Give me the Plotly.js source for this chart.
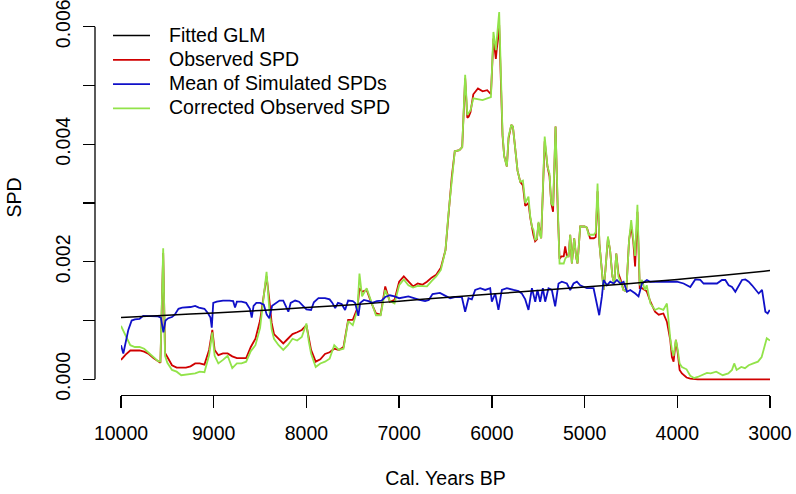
<!DOCTYPE html>
<html>
<head>
<meta charset="utf-8">
<script src="https://cdn.plot.ly/plotly-3.0.1.min.js"></script>
<style>html,body{margin:0;padding:0;background:#fff;}#chart{width:796px;height:494px;}</style>
</head>
<body>
<div id="chart"></div>
<script>
// ---------- data ----------
// Fitted GLM
var glmYears = [10000, 9500, 9000, 8500, 8000, 7500, 7000, 6500, 6000, 5500, 5000, 4500, 4000, 3500, 3000];
var glmSPD   = [0.00105, 0.00109, 0.00113, 0.00117, 0.00122, 0.00127, 0.00133, 0.00139, 0.00145, 0.00151, 0.00157, 0.00163, 0.00170, 0.00177, 0.00185];

// Observed SPD (red) and Corrected Observed SPD (green) share one time axis
var spdYears = [10000,9950,9900,9850,9800,9750,9700,9650,9600,9575,9545,9525,9500,9450,9400,9350,9300,9250,9200,9150,
  9100,9050,9015,8990,8950,8900,8850,8800,8750,8700,8650,8600,8550,8500,8430,8400,8375,8350,8300,8250,
  8200,8150,8100,8050,8000,7975,7950,7900,7850,7800,7750,7700,7650,7600,7550,7500,7450,7428,7400,7350,
  7300,7250,7200,7150,7100,7050,7000,6950,6900,6850,6800,6750,6700,6650,6600,6550,6500,6468,6432,6400,
  6350,6320,6288,6265,6250,6230,6200,6150,6100,6050,6010,5983,5957,5921,5903,5885,5867,5838,5820,5790,
  5773,5748,5723,5694,5665,5640,5605,5586,5568,5551,5533,5514,5497,5480,5468,5430,5400,5378,5360,5340,
  5313,5290,5270,5250,5225,5209,5190,5173,5155,5137,5112,5090,5076,5047,5000,4975,4957,4940,4900,4880,
  4860,4840,4820,4795,4775,4748,4725,4700,4680,4658,4635,4610,4580,4550,4520,4497,4475,4455,4430,4405,
  4380,4350,4330,4310,4290,4240,4200,4150,4112,4076,4058,4040,4015,3995,3975,3950,3930,3900,3860,3820,
  3780,3750,3720,3680,3640,3580,3510,3450,3410,3386,3360,3310,3270,3230,3180,3130,3090,3070,3035,3000];

var observedSPD = [0.00033,0.00042,0.00049,0.00049,0.00049,0.00047,0.00043,0.00036,0.00030,0.00028,0.00215,0.00045,0.00038,0.00024,0.00020,0.00020,0.00020,0.00022,0.00027,0.00027,
  0.00025,0.00050,0.00084,0.00050,0.00041,0.00044,0.00044,0.00039,0.00036,0.00036,0.00036,0.00055,0.00069,0.00100,0.00175,0.00135,0.00096,0.00077,0.00069,0.00061,
  0.00069,0.00077,0.00080,0.00084,0.00092,0.00070,0.00050,0.00030,0.00034,0.00043,0.00046,0.00052,0.00050,0.00055,0.00101,0.00101,0.00121,0.00155,0.00149,0.00152,
  0.00130,0.00112,0.00110,0.00158,0.00132,0.00135,0.00166,0.00175,0.00166,0.00158,0.00163,0.00161,0.00166,0.00173,0.00178,0.00190,0.00220,0.00282,0.00345,0.00388,
  0.00390,0.00395,0.00512,0.00445,0.00447,0.00455,0.00485,0.00495,0.00490,0.00492,0.00485,0.00580,0.00545,0.00603,0.00525,0.00415,0.00380,0.00362,0.00410,0.00433,
  0.00430,0.00396,0.00355,0.00336,0.00330,0.00295,0.00300,0.00275,0.00255,0.00245,0.00235,0.00238,0.00266,0.00245,0.00240,0.00405,0.00362,0.00345,0.00300,0.00285,
  0.00430,0.00290,0.00205,0.00209,0.00209,0.00226,0.00209,0.00209,0.00246,0.00197,0.00240,0.00207,0.00197,0.00260,0.00260,0.00258,0.00246,0.00240,0.00240,0.00242,
  0.00320,0.00231,0.00197,0.00152,0.00186,0.00240,0.00220,0.00175,0.00163,0.00214,0.00180,0.00169,0.00152,0.00150,0.00237,0.00260,0.00235,0.00192,0.00285,0.00155,
  0.00155,0.00152,0.00150,0.00141,0.00132,0.00115,0.00110,0.00112,0.00098,0.00067,0.00038,0.00030,0.00067,0.00045,0.00016,0.00010,0.00007,0.00003,0.00001,0.00000,
  0.00000,0.00000,0.00000,0.00000,0.00000,0.00000,0.00000,0.00000,0.00000,0.00000,0.00000,0.00000,0.00000,0.00000,0.00000,0.00000,0.00000,0.00000,0.00000,0.00000];

var correctedSPD = [0.00091,0.00075,0.00058,0.00055,0.00055,0.00052,0.00045,0.00038,0.00031,0.00030,0.00223,0.00040,0.00028,0.00016,0.00013,0.00007,0.00008,0.00010,0.00010,0.00013,
  0.00012,0.00041,0.00080,0.00040,0.00027,0.00033,0.00040,0.00019,0.00027,0.00027,0.00030,0.00048,0.00058,0.00087,0.00183,0.00118,0.00085,0.00069,0.00058,0.00050,
  0.00058,0.00069,0.00066,0.00072,0.00095,0.00065,0.00044,0.00021,0.00027,0.00030,0.00035,0.00058,0.00050,0.00052,0.00099,0.00092,0.00118,0.00180,0.00141,0.00155,
  0.00133,0.00109,0.00109,0.00152,0.00133,0.00129,0.00160,0.00170,0.00160,0.00156,0.00159,0.00158,0.00158,0.00167,0.00175,0.00186,0.00220,0.00282,0.00345,0.00388,
  0.00390,0.00395,0.00518,0.00450,0.00453,0.00458,0.00478,0.00476,0.00475,0.00478,0.00480,0.00591,0.00560,0.00625,0.00532,0.00419,0.00379,0.00362,0.00413,0.00433,
  0.00430,0.00396,0.00355,0.00336,0.00338,0.00300,0.00311,0.00277,0.00260,0.00254,0.00237,0.00240,0.00268,0.00245,0.00240,0.00413,0.00362,0.00350,0.00300,0.00295,
  0.00430,0.00300,0.00197,0.00197,0.00197,0.00205,0.00209,0.00209,0.00246,0.00197,0.00240,0.00207,0.00197,0.00260,0.00260,0.00258,0.00246,0.00246,0.00246,0.00250,
  0.00333,0.00231,0.00197,0.00152,0.00186,0.00243,0.00220,0.00175,0.00163,0.00214,0.00175,0.00163,0.00152,0.00150,0.00237,0.00271,0.00243,0.00210,0.00297,0.00160,
  0.00169,0.00152,0.00160,0.00145,0.00129,0.00118,0.00121,0.00118,0.00129,0.00070,0.00050,0.00040,0.00067,0.00050,0.00027,0.00021,0.00019,0.00017,0.00006,0.00002,
  0.00004,0.00006,0.00007,0.00011,0.00010,0.00013,0.00007,0.00010,0.00016,0.00027,0.00016,0.00021,0.00019,0.00024,0.00027,0.00030,0.00038,0.00050,0.00070,0.00066];

// Mean of Simulated SPDs (blue)
var simYears = [10000,9975,9921,9885,9850,9800,9760,9700,9650,9600,9570,9543,9520,9490,9450,9420,9380,9340,9250,9200,
  9160,9100,9060,9035,9021,9005,8967,8900,8830,8790,8770,8750,8700,8650,8610,8590,8570,8540,8500,8460,
  8428,8400,8370,8330,8290,8250,8215,8195,8170,8122,8080,8040,8000,7950,7920,7870,7800,7750,7720,7690,
  7660,7620,7583,7550,7500,7475,7440,7420,7380,7330,7290,7240,7190,7150,7100,7050,7000,6900,6830,6780,
  6720,6680,6640,6560,6500,6450,6400,6324,6288,6252,6216,6180,6126,6072,6018,6000,5964,5929,5892,5838,
  5766,5712,5676,5640,5605,5568,5532,5508,5479,5450,5425,5389,5353,5317,5281,5245,5191,5155,5119,5083,
  5047,4975,4903,4867,4842,4813,4795,4759,4723,4687,4651,4615,4579,4543,4507,4453,4418,4381,4328,4292,
  4220,4100,4004,3932,3860,3806,3752,3716,3644,3572,3518,3482,3446,3410,3374,3338,3302,3266,3230,3194,
  3158,3122,3086,3068,3050,3025,3003];

var simSPD = [0.00058,0.00044,0.00084,0.00100,0.00102,0.00103,0.00108,0.00108,0.00108,0.00107,0.00105,0.00080,0.00100,0.00104,0.00106,0.00110,0.00120,0.00122,0.00123,0.00125,
  0.00122,0.00120,0.00112,0.00105,0.00088,0.00130,0.00132,0.00134,0.00134,0.00133,0.00122,0.00132,0.00132,0.00130,0.00120,0.00105,0.00125,0.00130,0.00130,0.00127,
  0.00110,0.00104,0.00125,0.00130,0.00134,0.00134,0.00122,0.00115,0.00130,0.00134,0.00132,0.00125,0.00119,0.00118,0.00131,0.00138,0.00138,0.00136,0.00130,0.00121,
  0.00130,0.00128,0.00118,0.00134,0.00133,0.00130,0.00108,0.00130,0.00135,0.00133,0.00130,0.00133,0.00134,0.00140,0.00143,0.00141,0.00138,0.00141,0.00137,0.00135,
  0.00133,0.00135,0.00145,0.00147,0.00142,0.00138,0.00140,0.00140,0.00115,0.00138,0.00136,0.00152,0.00155,0.00152,0.00155,0.00132,0.00146,0.00118,0.00152,0.00155,
  0.00152,0.00150,0.00146,0.00136,0.00118,0.00155,0.00132,0.00152,0.00132,0.00155,0.00132,0.00155,0.00152,0.00124,0.00163,0.00166,0.00163,0.00152,0.00163,0.00166,
  0.00160,0.00155,0.00155,0.00129,0.00109,0.00141,0.00169,0.00160,0.00166,0.00163,0.00169,0.00163,0.00166,0.00149,0.00152,0.00146,0.00141,0.00163,0.00169,0.00166,
  0.00166,0.00165,0.00166,0.00163,0.00157,0.00170,0.00169,0.00163,0.00163,0.00163,0.00169,0.00169,0.00160,0.00157,0.00149,0.00160,0.00169,0.00170,0.00166,0.00160,
  0.00152,0.00146,0.00152,0.00132,0.00115,0.00112,0.00118];

var xTickVals = [10000, 9000, 8000, 7000, 6000, 5000, 4000, 3000];
var xTickText = ['10000', '9000', '8000', '7000', '6000', '5000', '4000', '3000'];
var yTickVals = [0, 0.001, 0.002, 0.003, 0.004, 0.005, 0.006];
var yTickText = ['0.000', '', '0.002', '', '0.004', '', '0.006'];

// legend entries (order as in the reference legend)
var legendNames  = ['Fitted GLM', 'Observed SPD', 'Mean of Simulated SPDs', 'Corrected Observed SPD'];
var legendColors = ['#000000', '#d00000', '#1010c8', '#92e34a'];

// ---------- drawing ----------
var FONT = 'Liberation Sans, Arial, Helvetica, sans-serif';
var W = 796, H = 494;
var lw = 1.8;

var traces = [
  {x: spdYears, y: observedSPD, type: 'scatter', mode: 'lines', name: legendNames[1],
   line: {color: legendColors[1], width: lw}},
  {x: spdYears, y: correctedSPD, type: 'scatter', mode: 'lines', name: legendNames[3],
   line: {color: legendColors[3], width: lw}},
  {x: simYears, y: simSPD, type: 'scatter', mode: 'lines', name: legendNames[2],
   line: {color: legendColors[2], width: lw}},
  {x: glmYears, y: glmSPD, type: 'scatter', mode: 'lines', name: legendNames[0],
   line: {color: legendColors[0], width: 1.5, shape: 'spline'}}
];

var yPerUnit = 58770;          // pixels per unit of SPD
var yZeroPx = 379.3;           // pixel row of SPD = 0
var plotBottomPx = 395, plotTopPx = 0;

// legend drawn as line samples + text (R-style legend box without border)
var legendShapes = [], legendAnn = [];
var legTop = 35.5, legStep = 24.3;
legendNames.forEach(function (nm, i) {
  var yy = 1 - (legTop + i * legStep) / H;
  legendShapes.push({type: 'line', xref: 'paper', yref: 'paper',
    x0: 113 / W, x1: 150 / W, y0: yy, y1: yy,
    line: {color: legendColors[i], width: i === 0 ? 1.5 : lw}});
  legendAnn.push({xref: 'paper', yref: 'paper', x: 167 / W, y: yy + 1 / H,
    xanchor: 'left', yanchor: 'middle', showarrow: false, text: nm,
    font: {family: FONT, size: 19.5, color: '#000000'}});
});

var layout = {
  width: W, height: H,
  margin: {l: 0, r: 0, t: 0, b: 0},
  paper_bgcolor: '#ffffff', plot_bgcolor: '#ffffff',
  font: {family: FONT, size: 19.5, color: '#000000'},
  showlegend: false,
  xaxis: {
    domain: [121 / W, 770 / W],
    range: [10000, 3000],
    anchor: 'free', position: (H - plotBottomPx) / H,
    showgrid: false, zeroline: false,
    showline: true, linecolor: '#000000', linewidth: 1.3,
    ticks: 'outside', ticklen: 12, tickwidth: 1.3, tickcolor: '#000000',
    tickmode: 'array', tickvals: xTickVals, ticktext: xTickText,
    ticklabeloverflow: 'allow', ticklabelstandoff: 8,
    tickfont: {family: FONT, size: 19.5, color: '#000000'},
    title: {text: 'Cal. Years BP', font: {family: FONT, size: 19.5, color: '#000000'}, standoff: 28}
  },
  yaxis: {
    domain: [(H - plotBottomPx) / H, 1 - plotTopPx / H],
    range: [(yZeroPx - plotBottomPx) / yPerUnit, (yZeroPx - plotTopPx) / yPerUnit],
    anchor: 'free', position: 95 / W,
    showgrid: false, zeroline: false, showline: false,
    ticks: 'outside', ticklen: 12, tickwidth: 1.3, tickcolor: '#000000',
    tickmode: 'array', tickvals: yTickVals, ticktext: yTickText,
    tickangle: -90, ticklabeloverflow: 'allow', ticklabelstandoff: 5,
    tickfont: {family: FONT, size: 19.5, color: '#000000'},
    title: {text: 'SPD', font: {family: FONT, size: 19.5, color: '#000000'}, standoff: 24}
  },
  shapes: [
    {type: 'line', xref: 'paper', yref: 'y', x0: 95 / W, x1: 95 / W, y0: 0, y1: 0.006,
     line: {color: '#000000', width: 1.3}}
  ].concat(legendShapes),
  annotations: legendAnn
};

Plotly.newPlot('chart', traces, layout, {displayModeBar: false, staticPlot: true});
</script>
</body>
</html>
